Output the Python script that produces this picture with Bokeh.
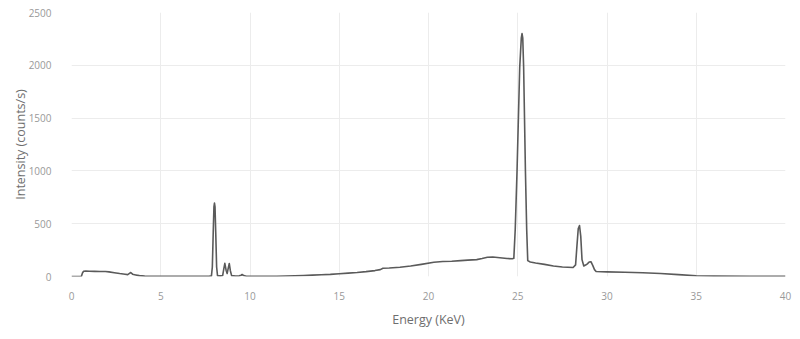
from bokeh.plotting import figure
from bokeh.embed import file_html
from bokeh.resources import INLINE
from bokeh.models import FixedTicker

energy = [0.0, 0.55, 0.62, 0.68, 0.8, 1.0, 1.3, 1.6, 1.9, 2.1, 2.4, 2.7, 3.0, 3.15, 3.25, 3.32, 3.42, 3.6, 3.8, 4.1, 4.5, 5.0, 6.0, 7.0, 7.7,
          7.84, 7.89, 7.94, 7.98, 8.01, 8.04, 8.08, 8.13, 8.18, 8.35, 8.47, 8.53, 8.59, 8.66, 8.72, 8.77, 8.84, 8.9, 8.97, 9.2, 9.4, 9.5, 9.56, 9.65, 9.8,
          10.5, 11.0, 11.5, 12.0, 12.5, 13.0, 13.5, 14.0, 14.5, 15.0, 15.5, 16.0, 16.5, 17.0, 17.3, 17.45, 17.8, 18.4, 19.0, 19.6, 20.3,
          20.8, 21.3, 21.8, 22.2, 22.7, 23.0, 23.3, 23.6, 24.0, 24.4, 24.7, 24.78, 24.86, 24.96, 25.11, 25.2, 25.24, 25.28, 25.33, 25.43, 25.5, 25.56,
          25.7, 26.0, 26.5, 27.0, 27.5, 28.1, 28.24, 28.32, 28.39, 28.46, 28.53, 28.6, 28.7, 28.8, 28.9, 29.0, 29.1, 29.2, 29.3, 29.39, 30.0,
          31.0, 32.0, 33.0, 34.0, 35.0, 36.0, 38.0, 40.0]
intensity = [0, 0, 35, 50, 52, 50, 49, 48, 47, 44, 36, 28, 22, 18, 30, 38, 22, 15, 8, 4, 2, 1, 1, 2, 3,
             6, 90, 420, 660, 695, 660, 420, 90, 8, 6, 10, 70, 125, 60, 28, 70, 123, 55, 8, 5, 6, 12, 19, 9, 3,
             2, 2, 3, 5, 7, 10, 13, 17, 20, 26, 32, 38, 46, 56, 65, 78, 80, 88, 100, 115, 135,
             142, 145, 150, 155, 160, 170, 182, 185, 178, 170, 168, 172, 450, 1000, 1980, 2260, 2300, 2260, 1980, 1000, 450, 150,
             138, 128, 115, 100, 90, 85, 110, 300, 455, 483, 380, 160, 100, 108, 120, 138, 140, 105, 65, 47, 44,
             40, 35, 28, 18, 7, 4, 3, 3]

x_ticks = [0, 5, 10, 15, 20, 25, 30, 35, 40]
y_ticks = [0, 500, 1000, 1500, 2000, 2500]

p = figure(width=800, height=339, output_backend="svg", toolbar_location=None,
           x_range=(0, 40), y_range=(0, 2500),
           min_border_left=71, min_border_right=15, min_border_top=12, min_border_bottom=63)
p.outline_line_color = None
p.background_fill_color = "white"
p.border_fill_color = "white"

p.line(energy, intensity, line_color="#5a5a5a", line_width=1.6, line_join="round")

p.xaxis.ticker = FixedTicker(ticks=x_ticks)
p.yaxis.ticker = FixedTicker(ticks=y_ticks)
p.xaxis.axis_label = "Energy (KeV)"
p.yaxis.axis_label = "Intensity (counts/s)"
for ax in (p.xaxis, p.yaxis):
    ax.axis_line_color = None
    ax.major_tick_line_color = None
    ax.minor_tick_line_color = None
    ax.major_label_text_font = "Open Sans"
    ax.major_label_text_font_size = "10px"
    ax.major_label_text_color = "#999999"
    ax.axis_label_text_font = "Open Sans"
    ax.axis_label_text_font_size = "12.5px"
    ax.axis_label_text_font_style = "normal"
    ax.axis_label_text_color = "#6e6e6e"
p.xaxis.major_label_standoff = 9
p.yaxis.major_label_standoff = 14
p.xaxis.axis_label_standoff = 8
p.yaxis.axis_label_standoff = -3

p.xgrid.grid_line_color = "#ececec"
p.ygrid.grid_line_color = "#ececec"

open("out.html", "w").write(file_html(p, INLINE))
